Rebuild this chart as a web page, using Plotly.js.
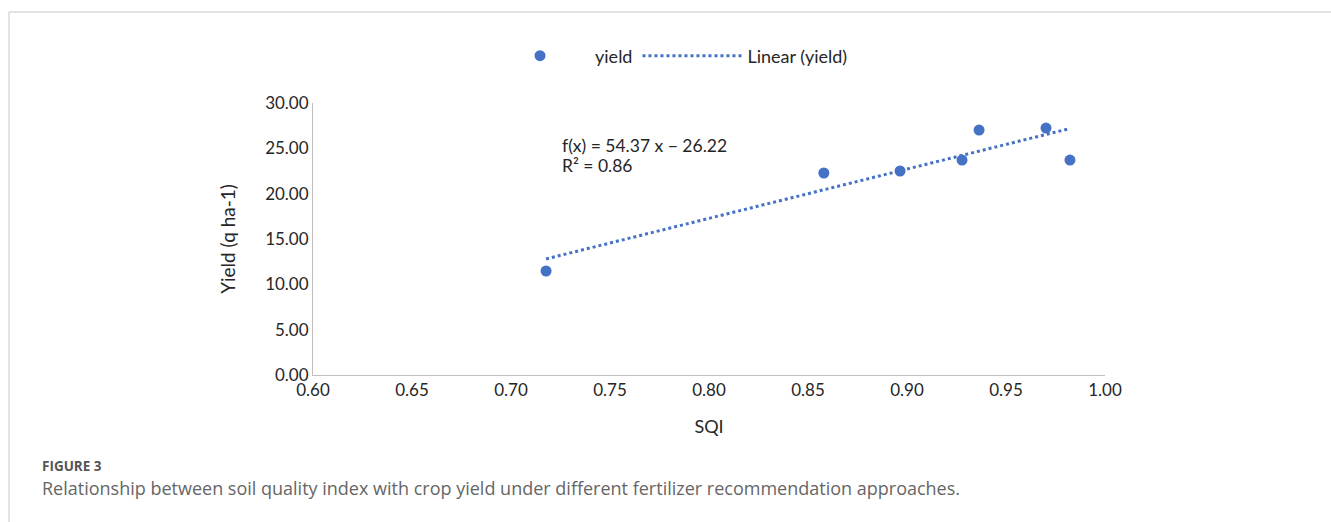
<!DOCTYPE html>
<html>
<head>
<meta charset="utf-8">
<script src="https://cdn.plot.ly/plotly-3.0.1.min.js"></script>
<style>
html,body{margin:0;padding:0;background:#fff;}
#chart{width:1331px;height:522px;}
</style>
</head>
<body>
<div id="chart"></div>
<script>
// Data
const sqi = [0.7177, 0.858, 0.8965, 0.9278, 0.9364, 0.9702, 0.9823];
const yieldVals = [11.47, 22.28, 22.50, 23.71, 27.02, 27.24, 23.71];
const trendSlope = 54.37;
const trendIntercept = -26.22;
const rSquared = 0.86;
const xTicks = [0.60, 0.65, 0.70, 0.75, 0.80, 0.85, 0.90, 0.95, 1.00];
const yTicks = [0, 5, 10, 15, 20, 25, 30];

const blue = '#4472C4';
const xMin = Math.min(...sqi), xMax = Math.max(...sqi);
const trendX = [xMin, xMax];
const trendY = trendX.map(x => trendSlope * x + trendIntercept);

const traces = [
  {
    x: sqi, y: yieldVals, type: 'scatter', mode: 'markers', name: 'yield',
    marker: {color: blue, size: 11}
  },
  {
    x: trendX, y: trendY, type: 'scatter', mode: 'lines', name: 'Linear (yield)',
    line: {color: blue, width: 3, dash: 'dot'}
  }
];

const fam = 'Lato, Carlito, sans-serif';
const txt = '#262626';
const tickFont = {family: fam, size: 17, color: txt};

const layout = {
  width: 1331, height: 522,
  margin: {l: 313, r: 226, t: 103, b: 147},
  paper_bgcolor: '#fff', plot_bgcolor: '#fff',
  showlegend: true,
  legend: {
    orientation: 'h', x: 0.2172, y: 1.173, xanchor: 'left', yanchor: 'middle',
    font: {family: fam, size: 18, color: txt},
    itemwidth: 100, traceorder: 'normal', bgcolor: 'rgba(0,0,0,0)'
  },
  xaxis: {
    range: [0.6, 1.0], tickvals: xTicks, ticktext: xTicks.map(v => v.toFixed(2)),
    showgrid: false, zeroline: false, showline: true, linecolor: '#bfbfbf', linewidth: 1,
    ticks: '', tickfont: tickFont, fixedrange: true,
    title: {text: 'SQI', font: {family: fam, size: 18, color: txt}, standoff: 20}
  },
  yaxis: {
    range: [0, 30], tickvals: yTicks, ticktext: yTicks.map(v => v.toFixed(2)),
    showgrid: false, zeroline: false, showline: true, linecolor: '#bfbfbf', linewidth: 1,
    ticks: '', tickfont: tickFont, fixedrange: true,
    title: {text: 'Yield (q ha-1)', font: {family: fam, size: 19, color: txt}, standoff: 24}
  },
  annotations: [
    {
      xref: 'x', yref: 'y', x: 0.7245, y: 25.26, xanchor: 'left', yanchor: 'middle', align: 'left',
      showarrow: false,
      text: 'f(x) = ' + trendSlope.toFixed(2) + ' x − ' + Math.abs(trendIntercept).toFixed(2),
      font: {family: fam, size: 17.5, color: txt}
    },
    {
      xref: 'x', yref: 'y', x: 0.7245, y: 23.16, xanchor: 'left', yanchor: 'middle', align: 'left',
      showarrow: false,
      text: 'R² = ' + rSquared.toFixed(2),
      font: {family: fam, size: 17.5, color: txt}
    },
    {
      xref: 'paper', yref: 'paper', x: -0.3447, y: -0.335, xanchor: 'left', yanchor: 'middle',
      showarrow: false, text: '<b>FIGURE 3</b>',
      font: {family: 'Open Sans, sans-serif', size: 13.5, color: '#555'}
    },
    {
      xref: 'paper', yref: 'paper', x: -0.3447, y: -0.415, xanchor: 'left', yanchor: 'middle',
      showarrow: false, text: 'Relationship between soil quality index with crop yield under different fertilizer recommendation approaches.',
      font: {family: 'Open Sans, sans-serif', size: 18, color: '#666'}
    }
  ],
  shapes: [
    {type: 'line', xref: 'paper', yref: 'paper', x0: -0.3838, x1: 1.30, y0: 1.3346, y1: 1.3346, line: {color: '#c8c8c8', width: 1}},
    {type: 'line', xref: 'paper', yref: 'paper', x0: -0.3838, x1: -0.3838, y0: 1.3346, y1: -0.6, line: {color: '#c8c8c8', width: 1}}
  ]
};

Plotly.newPlot('chart', traces, layout, {displayModeBar: false, staticPlot: true});
</script>
</body>
</html>
